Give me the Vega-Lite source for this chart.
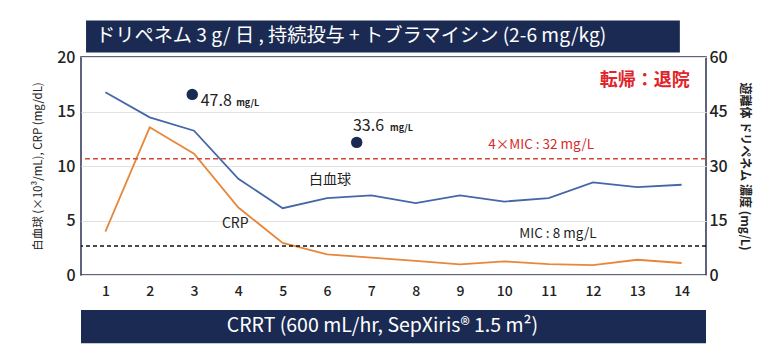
{
  "$schema": "https://vega.github.io/schema/vega-lite/v6.json",
  "autosize": "none",
  "width": 625,
  "height": 218,
  "padding": {"left": 81, "top": 57, "right": 70, "bottom": 83},
  "background": "white",
  "config": {
    "font": "Noto Sans CJK JP",
    "view": {"stroke": "#2b3152", "strokeWidth": 1.5},
    "axis": {"domain": false, "ticks": false}
  },
  "datasets": {
    "series": [
      {"day": 1, "series": "WBC", "value": 16.76},
      {"day": 2, "series": "WBC", "value": 14.46},
      {"day": 3, "series": "WBC", "value": 13.24},
      {"day": 4, "series": "WBC", "value": 8.83},
      {"day": 5, "series": "WBC", "value": 6.13},
      {"day": 6, "series": "WBC", "value": 7.05},
      {"day": 7, "series": "WBC", "value": 7.3},
      {"day": 8, "series": "WBC", "value": 6.59},
      {"day": 9, "series": "WBC", "value": 7.3},
      {"day": 10, "series": "WBC", "value": 6.74},
      {"day": 11, "series": "WBC", "value": 7.05},
      {"day": 12, "series": "WBC", "value": 8.49},
      {"day": 13, "series": "WBC", "value": 8.06},
      {"day": 14, "series": "WBC", "value": 8.28},
      {"day": 1, "series": "CRP", "value": 3.98},
      {"day": 2, "series": "CRP", "value": 13.55},
      {"day": 3, "series": "CRP", "value": 11.13},
      {"day": 4, "series": "CRP", "value": 6.19},
      {"day": 5, "series": "CRP", "value": 2.95},
      {"day": 6, "series": "CRP", "value": 1.9},
      {"day": 7, "series": "CRP", "value": 1.6},
      {"day": 8, "series": "CRP", "value": 1.29},
      {"day": 9, "series": "CRP", "value": 0.98},
      {"day": 10, "series": "CRP", "value": 1.25},
      {"day": 11, "series": "CRP", "value": 1.0},
      {"day": 12, "series": "CRP", "value": 0.9},
      {"day": 13, "series": "CRP", "value": 1.4},
      {"day": 14, "series": "CRP", "value": 1.1}
    ],
    "conc": [
      {"day": 2.96, "conc": 49.7, "label": "47.8"},
      {"day": 6.67, "conc": 36.5, "label": "33.6"}
    ]
  },
  "layer": [
    {
      "layer": [
        {
          "data": {"name": "series"},
          "mark": {"type": "line", "strokeWidth": 1.8},
          "encoding": {
            "x": {
              "field": "day", "type": "quantitative",
              "scale": {"domain": [0.45, 14.55], "nice": false, "zero": false},
              "axis": {"values": [1,2,3,4,5,6,7,8,9,10,11,12,13,14], "grid": false, "title": null, "labelFontSize": 14, "labelPadding": 9, "labelColor": "#222", "labelFontWeight": 500}
            },
            "y": {
              "field": "value", "type": "quantitative",
              "scale": {"domain": [0, 20], "nice": false},
              "axis": {"values": [0,5,10,15,20], "grid": true, "gridColor": "#e2e2e2", "gridWidth": 1.2, "labelFontSize": 16, "labelPadding": 6, "labelColor": "#222", "labelFontWeight": 500, "title": "白血球 (×10³/mL), CRP (mg/dL)", "titleFontSize": 11.5, "titleFontWeight": "normal", "titleColor": "#222", "titlePadding": 13}
            },
            "color": {"field": "series", "type": "nominal", "scale": {"domain": ["WBC", "CRP"], "range": ["#4467a8", "#e8873a"]}, "legend": null}
          }
        },
        {
          "data": {"values": [
            {"x": 6.07, "y": 8.74, "text": "白血球"},
            {"x": 3.93, "y": 4.72, "text": "CRP"}
          ]},
          "mark": {"type": "text", "fontSize": 14, "baseline": "middle", "align": "center", "color": "#222"},
          "encoding": {
            "x": {"field": "x", "type": "quantitative"},
            "y": {"field": "y", "type": "quantitative"},
            "text": {"field": "text"}
          }
        },
        {
          "data": {"values": [{"x": 13.17, "y": 17.38, "text": "転帰：退院"}]},
          "mark": {"type": "text", "fontSize": 18, "fontWeight": "bold", "baseline": "alphabetic", "align": "center", "color": "#e0242a"},
          "encoding": {
            "x": {"field": "x", "type": "quantitative"},
            "y": {"field": "y", "type": "quantitative"},
            "text": {"field": "text"}
          }
        },
        {
          "data": {"values": [
            {"x1": 0.564, "x2": 13.96, "y1": 20.41, "y2": 23.36},
            {"x1": 0.45, "x2": 14.55, "y1": -3.22, "y2": -6.25}
          ]},
          "mark": {"type": "rect", "color": "#1b2a52"},
          "encoding": {
            "x": {"field": "x1", "type": "quantitative"},
            "x2": {"field": "x2"},
            "y": {"field": "y1", "type": "quantitative"},
            "y2": {"field": "y2"}
          }
        },
        {
          "data": {"values": [{"x": 0.79, "y": 21.9, "text": "ドリペネム 3 g/ 日 , 持続投与 + トブラマイシン (2-6 mg/kg)"}]},
          "mark": {"type": "text", "fontSize": 19.2, "baseline": "middle", "align": "left", "color": "white"},
          "encoding": {
            "x": {"field": "x", "type": "quantitative"},
            "y": {"field": "y", "type": "quantitative"},
            "text": {"field": "text"}
          }
        },
        {
          "data": {"values": [{"x": 7.25, "y": -4.72, "text": "CRRT (600 mL/hr, SepXiris® 1.5 m²)"}]},
          "mark": {"type": "text", "fontSize": 19.5, "baseline": "middle", "align": "center", "color": "white"},
          "encoding": {
            "x": {"field": "x", "type": "quantitative"},
            "y": {"field": "y", "type": "quantitative"},
            "text": {"field": "text"}
          }
        }
      ]
    },
    {
      "layer": [
        {
          "data": {"values": [{"level": 32}]},
          "mark": {"type": "rule", "color": "#cf4a3a", "strokeWidth": 1.5, "strokeDash": [5, 3]},
          "encoding": {
            "y": {
              "field": "level", "type": "quantitative",
              "scale": {"domain": [0, 60], "nice": false},
              "axis": {"orient": "right", "values": [0,15,30,45,60], "grid": false, "labelFontSize": 16, "labelPadding": 3, "labelColor": "#222", "labelFontWeight": 500, "title": "遊離体 ドリペネム 濃度 (mg/L)", "titleFontSize": 12, "titleFontWeight": "bold", "titleColor": "#222", "titlePadding": 10}
            }
          }
        },
        {
          "data": {"values": [{"level": 8}]},
          "mark": {"type": "rule", "color": "#111", "strokeWidth": 1.5, "strokeDash": [4, 3]},
          "encoding": {
            "y": {"field": "level", "type": "quantitative"}
          }
        },
        {
          "data": {"name": "conc"},
          "mark": {"type": "point", "filled": true, "size": 130, "color": "#1b2a52", "opacity": 1},
          "encoding": {
            "x": {"field": "day", "type": "quantitative"},
            "y": {"field": "conc", "type": "quantitative"}
          }
        },
        {
          "data": {"values": [
            {"x": 3.15, "y": 46.6, "text": "47.8"},
            {"x": 6.585, "y": 39.5, "text": "33.6"}
          ]},
          "mark": {"type": "text", "fontSize": 16, "baseline": "alphabetic", "align": "left", "color": "#222"},
          "encoding": {
            "x": {"field": "x", "type": "quantitative"},
            "y": {"field": "y", "type": "quantitative"},
            "text": {"field": "text"}
          }
        },
        {
          "data": {"values": [
            {"x": 3.95, "y": 46.6, "text": "mg/L"},
            {"x": 7.42, "y": 39.5, "text": "mg/L"}
          ]},
          "mark": {"type": "text", "fontSize": 9, "fontWeight": "bold", "baseline": "alphabetic", "align": "left", "color": "#222"},
          "encoding": {
            "x": {"field": "x", "type": "quantitative"},
            "y": {"field": "y", "type": "quantitative"},
            "text": {"field": "text"}
          }
        },
        {
          "data": {"values": [{"x": 10.83, "y": 35.9, "text": "4×MIC : 32 mg/L"}]},
          "mark": {"type": "text", "fontSize": 13.5, "baseline": "middle", "align": "center", "color": "#d42a2a"},
          "encoding": {
            "x": {"field": "x", "type": "quantitative"},
            "y": {"field": "y", "type": "quantitative"},
            "text": {"field": "text"}
          }
        },
        {
          "data": {"values": [{"x": 11.21, "y": 11.3, "text": "MIC : 8 mg/L"}]},
          "mark": {"type": "text", "fontSize": 13.5, "baseline": "middle", "align": "center", "color": "#222"},
          "encoding": {
            "x": {"field": "x", "type": "quantitative"},
            "y": {"field": "y", "type": "quantitative"},
            "text": {"field": "text"}
          }
        }
      ]
    }
  ],
  "resolve": {"scale": {"y": "independent"}}
}
